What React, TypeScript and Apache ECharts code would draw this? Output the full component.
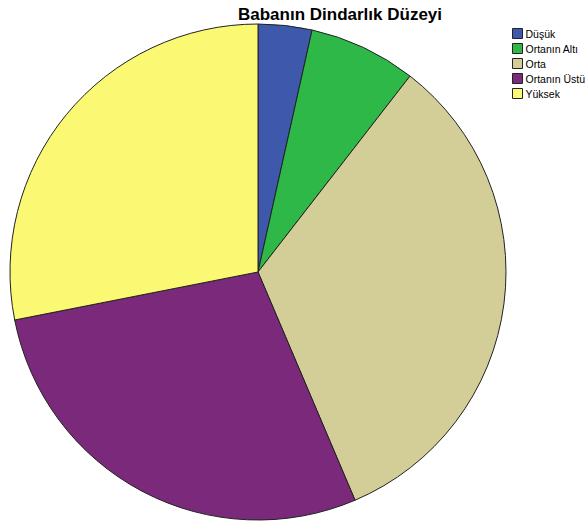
import React, { useEffect, useRef } from "react";
import * as echarts from "echarts";

const categories = ["Düşük", "Ortanın Altı", "Orta", "Ortanın Üstü", "Yüksek"];
const values = [3.5, 7.0, 33.1, 28.3, 28.1];
const colors = ["#3e58ac", "#2eb848", "#d3ce97", "#7b2a7b", "#fbf873"];
const titleText = "Babanın Dindarlık Düzeyi";

export default function App() {
  const ref = useRef<HTMLDivElement>(null);
  useEffect(() => {
    if (!ref.current) return;
    const chart = echarts.init(ref.current, undefined, { renderer: "svg" });
    chart.setOption({
      animation: false,
      backgroundColor: "#ffffff",
      title: {
        text: titleText,
        left: 233,
        top: 1,
        textStyle: {
          fontFamily: "Liberation Sans, Arial, sans-serif",
          fontSize: 17,
          fontWeight: "bold",
          color: "#000",
        },
      },
      legend: {
        orient: "vertical",
        left: 507,
        top: 23,
        itemWidth: 10,
        itemHeight: 10,
        itemGap: 4,
        icon: "rect",
        textStyle: {
          fontFamily: "Liberation Sans, Arial, sans-serif",
          fontSize: 10.5,
          color: "#000",
          padding: [0, 0, 0, -2],
        },
        itemStyle: { borderColor: "#222", borderWidth: 1 },
        data: categories,
      },
      series: [
        {
          type: "pie",
          center: [258, 272],
          radius: [0, 248],
          startAngle: 90,
          clockwise: true,
          label: { show: false },
          labelLine: { show: false },
          emphasis: { disabled: true },
          itemStyle: { borderColor: "#222", borderWidth: 1 },
          data: categories.map((c, i) => ({
            name: c,
            value: values[i],
            itemStyle: { color: colors[i] },
          })),
        },
      ],
    });
    return () => chart.dispose();
  }, []);
  return (
    <div
      ref={ref}
      style={{ position: "fixed", left: 0, top: 0, width: 586, height: 529 }}
    />
  );
}
